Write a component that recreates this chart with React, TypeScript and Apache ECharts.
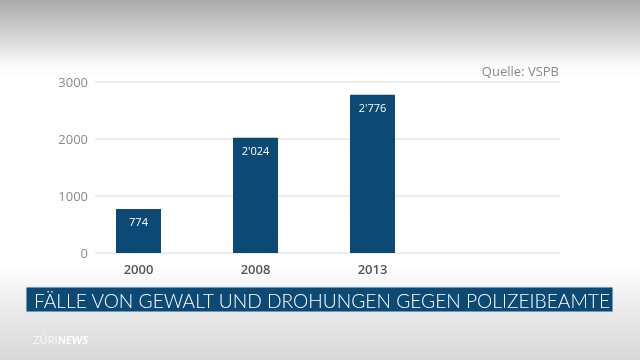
import React, { useEffect, useRef } from "react";
import * as echarts from "echarts";

const categories = ["2000", "2008", "2013", ""];
const values = [774, 2024, 2776, null];
const yTicks = [0, 1000, 2000, 3000];
const title = "FÄLLE VON GEWALT UND DROHUNGEN GEGEN POLIZEIBEAMTE";
const source = "Quelle: VSPB";

const fmt = (v: number) => {
  const s = String(Math.round(v));
  return s.length > 3 ? s.slice(0, s.length - 3) + "'" + s.slice(s.length - 3) : s;
};

export default function App() {
  const ref = useRef<HTMLDivElement>(null);
  useEffect(() => {
    if (!ref.current) return;
    const chart = echarts.init(ref.current, null, { renderer: "svg" });
    const font = "'Open Sans', Lato, sans-serif";
    chart.setOption({
      animation: false,
      textStyle: { fontFamily: font },
      graphic: [
        {
          type: "rect",
          z: -100,
          silent: true,
          shape: { x: 0, y: 0, width: 640, height: 360 },
          style: {
            fill: new echarts.graphic.LinearGradient(0, 0, 0, 1, [
              { offset: 0, color: "#aaaaaa" },
              { offset: 0.1, color: "#d4d4d4" },
              { offset: 0.18, color: "#fafafa" },
              { offset: 0.22, color: "#ffffff" },
              { offset: 0.74, color: "#ffffff" },
              { offset: 0.85, color: "#ececec" },
              { offset: 1, color: "#d8d8d8" },
            ]),
          },
        },
        {
          type: "rect",
          z: 10,
          silent: true,
          shape: { x: 26, y: 287, width: 587, height: 25 },
          style: { fill: "#0c4a75", stroke: "#dbe6ee", lineWidth: 1 },
        },
        {
          type: "text",
          z: 11,
          x: 34,
          y: 300,
          style: {
            text: title,
            fill: "#ffffff",
            font: "300 19.2px Lato, 'Open Sans', sans-serif",
            textVerticalAlign: "middle",
          },
        },
        {
          type: "text",
          z: 11,
          x: 559,
          y: 71,
          style: {
            text: source,
            fill: "#8a8a8a",
            font: "13px 'Open Sans', Lato, sans-serif",
            textAlign: "right",
            textVerticalAlign: "middle",
          },
        },
        {
          type: "text",
          z: 11,
          x: 33,
          y: 339,
          style: {
            text: "ZÜRI",
            fill: "#f6f6f6",
            font: "11px Lato, sans-serif",
            textVerticalAlign: "middle",
          },
        },
        {
          type: "text",
          z: 11,
          x: 58,
          y: 339,
          style: {
            text: "NEWS",
            fill: "#ffffff",
            font: "italic bold 11px Lato, sans-serif",
            textVerticalAlign: "middle",
          },
        },
      ],
      grid: [
        { left: 95, right: 80, top: 82, bottom: 107 },
        { left: 80, right: 92, top: 82, bottom: 107 },
      ],
      xAxis: [
        { type: "category", gridIndex: 0, data: categories, show: false },
        {
          type: "category",
          gridIndex: 1,
          data: categories,
          axisLine: { show: false },
          axisTick: { show: false },
          axisLabel: { color: "#555555", fontSize: 13, fontWeight: 600, margin: 9, fontFamily: font },
        },
      ],
      yAxis: [
        {
          type: "value",
          gridIndex: 0,
          min: yTicks[0],
          max: yTicks[yTicks.length - 1],
          interval: 1000,
          axisLine: { show: false },
          axisTick: { show: false },
          axisLabel: {
            color: "#8a8a8a",
            fontSize: 13,
            margin: 7,
            fontFamily: font,
            formatter: (v: number) => String(v),
          },
          splitLine: { lineStyle: { color: "#e6e6e6", width: 1.5 } },
        },
        {
          type: "value",
          gridIndex: 1,
          min: yTicks[0],
          max: yTicks[yTicks.length - 1],
          interval: 1000,
          show: false,
          splitLine: { show: false },
        },
      ],
      series: [
        {
          type: "bar",
          xAxisIndex: 1,
          yAxisIndex: 1,
          data: values,
          barWidth: 45,
          itemStyle: { color: "#0c4a75" },
          label: {
            show: true,
            position: "insideTop",
            distance: 7,
            color: "#ffffff",
            fontSize: 11,
            fontFamily: font,
            formatter: (p: any) => fmt(p.value),
          },
        },
      ],
    });
    return () => chart.dispose();
  }, []);
  return (
    <div
      ref={ref}
      style={{ position: "fixed", left: 0, top: 0, width: 640, height: 360 }}
    />
  );
}
